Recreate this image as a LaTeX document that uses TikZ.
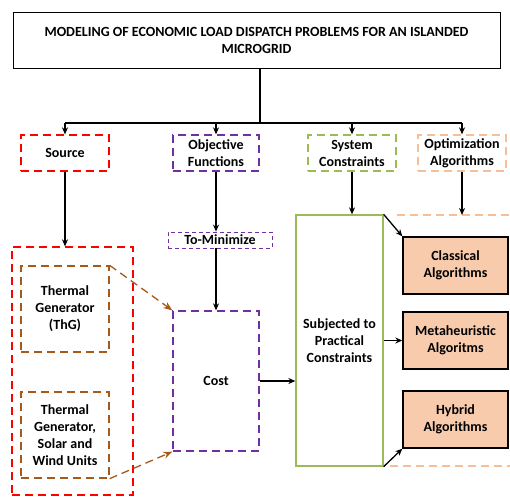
\documentclass[tikz,border=0pt]{standalone}
\usepackage{fontspec}
\setmainfont{Carlito}
\usetikzlibrary{arrows.meta}
\definecolor{myred}{RGB}{255,0,0}
\definecolor{mypurple}{RGB}{112,48,160}
\definecolor{mygreen}{RGB}{155,187,89}
\definecolor{myorange}{RGB}{248,190,150}
\definecolor{mybrown}{RGB}{165,90,25}
\definecolor{mypeach}{RGB}{248,203,173}
\begin{document}
\begin{tikzpicture}[x=1pt,y=-1pt,
  font=\bfseries\fontsize{14}{17}\selectfont,
  box/.style={rectangle, inner sep=0pt, align=center, line width=1.3pt},
  dsh/.style={dash pattern=on 8pt off 5pt},
  arr/.style={-{Stealth[length=7pt,width=6pt]}, line width=1.3pt},
  barr/.style={-{Stealth[length=9pt,width=7pt]}, line width=1.3pt, draw=mybrown, dash pattern=on 8pt off 5pt},
  algbox/.style={box, draw=black, fill=mypeach, minimum width=105pt, minimum height=57pt, line width=1.4pt}]
\useasboundingbox (0,0) rectangle (510,498);
\fill[white] (0,0) rectangle (510,498);

\node[box, draw=black, line width=0.9pt, minimum width=487pt, minimum height=56pt] (title) at (256.5,40)
  {MODELING OF ECONOMIC LOAD DISPATCH PROBLEMS FOR AN ISLANDED\\MICROGRID};

\node[box, draw=myred, dsh, minimum width=88pt, minimum height=36pt] (src) at (65,153) {Source};
\node[box, draw=mypurple, dsh, minimum width=86pt, minimum height=36pt] (obj) at (216,153) {Objective\\Functions};
\node[box, draw=mygreen, dsh, minimum width=88pt, minimum height=36pt] (sys) at (352,153) {System\\Constraints};
\node[box, draw=myorange, dsh, minimum width=88pt, minimum height=36pt] (opt) at (462,153) {Optimization\\Algorithms};

\node[box, draw=myred, dsh, minimum width=121pt, minimum height=248pt] (grp) at (72.5,371) {};
\node[box, draw=mybrown, dsh, minimum width=88pt, minimum height=86pt] (thg) at (65,309) {Thermal\\Generator\\(ThG)};
\node[box, draw=mybrown, dsh, minimum width=88pt, minimum height=86pt] (tsw) at (65,435) {Thermal\\Generator,\\Solar and\\Wind Units};

\node[box, draw=mypurple, line width=0.8pt, dash pattern=on 4pt off 3pt, minimum width=104pt, minimum height=16pt] (tomin) at (220,240) {To-Minimize};
\node[box, draw=mypurple, dsh, minimum width=86pt, minimum height=140pt] (cost) at (216,381) {Cost};

\node[box, draw=mygreen, minimum width=87pt, minimum height=251pt] (subj) at (339.5,340.5) {Subjected to\\Practical\\Constraints};

\node[algbox] (cls) at (455.5,265.5) {Classical\\Algorithms};
\node[algbox] (meta) at (455.5,340.5) {Metaheuristic\\Algoritms};
\node[algbox] (hyb) at (455.5,419.5) {Hybrid\\Algorithms};

% orange dashed region edges
\coordinate (otl) at (397,215);
\coordinate (otr) at (510,215);
\coordinate (obl) at (390,466);
\coordinate (obr) at (510,466);
\draw[myorange, line width=1.3pt, dsh] (otl) -- (otr);
\draw[myorange, line width=1.3pt, dsh] (obl) -- (obr);
\coordinate (otop) at (462,215);

% bus
\coordinate (bus) at (260,123);
\coordinate (busl) at (65,123);
\coordinate (busr) at (462,123);
\draw[line width=1.3pt] (title.south -| bus) -- (bus);
\draw[line width=1.3pt] (busl) -- (busr);
\draw[arr] (busl) -- (src.north);
\draw[arr] (obj.north |- bus) -- (obj.north);
\draw[arr] (sys.north |- bus) -- (sys.north);
\draw[arr] (busr) -- (opt.north);

\draw[arr] (src.south) -- (src.south |- grp.north);
\draw[arr] (obj.south) -- (obj.south |- tomin.north);
\draw[arr] (tomin.south -| cost.north) -- (cost.north);
\draw[arr] (sys.south) -- (sys.south |- subj.north);
\draw[arr] (opt.south) -- (otop);
\draw[arr] (cost.east) -- (cost.east -| subj.west);

\draw[arr] (subj.north east) -- (cls.north west);
\draw[arr] (subj.east |- meta.west) -- (meta.west);
\draw[arr] (subj.south east) -- (hyb.south west);

\draw[barr] (thg.north east) -- (cost.north west);
\draw[barr] (tsw.south east) -- (cost.south west);
\end{tikzpicture}
\end{document}
